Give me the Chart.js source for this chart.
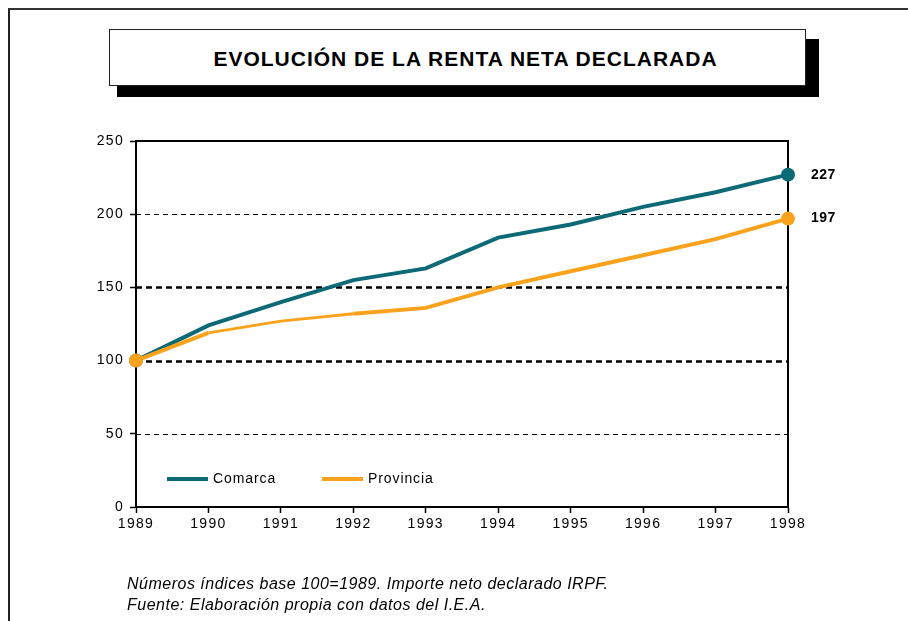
<!DOCTYPE html>
<html>
<head>
<meta charset="utf-8">
<script src="https://cdn.jsdelivr.net/npm/chart.js@4"></script>
<style>
  body { margin: 0; background: #fff; font-family: "Liberation Sans", Arial, sans-serif; }
  #page { position: relative; width: 908px; height: 621px; overflow: hidden; }
  #marco { position: absolute; left: 8px; top: 8px; width: 920px; height: 640px;
           border-left: 2px solid #222; border-top: 2px solid #333; }
  #sombra { position: absolute; left: 117px; top: 39px; width: 702px; height: 58px; background: #000; }
  #titulo { position: absolute; left: 109px; top: 29px; width: 695px; height: 55px;
            background: #fff; border: 1.5px solid #222; text-align: center; text-indent: 16px;
            line-height: 57px; font-weight: bold; font-size: 21px; letter-spacing: 1px; color: #000; }
  #nota { position: absolute; left: 127px; top: 573px; font-style: italic; font-size: 16px;
          line-height: 21px; letter-spacing: 0.5px; color: #000; }
  canvas { position: absolute; left: 0; top: 0; }
</style>
</head>
<body>
<div id="page">
  <div id="marco"></div>
  <div id="sombra"></div>
  <div id="titulo">EVOLUCIÓN DE LA RENTA NETA DECLARADA</div>
  <canvas id="grafica" width="908" height="621"></canvas>
  <div id="nota">Números índices base 100=1989. Importe neto declarado IRPF.<br>Fuente: Elaboración propia con datos del I.E.A.</div>
</div>
<script>
const ANIOS = ['1989', '1990', '1991', '1992', '1993', '1994', '1995', '1996', '1997', '1998'];
const COMARCA = [100, 124, 140, 155, 163, 184, 193, 205, 215, 227];
const PROVINCIA = [100, 119, 127, 132, 136, 150, 161, 172, 183, 197];
const NOMBRES = ['Comarca', 'Provincia'];

const TEAL = '#0c6976';
const NARANJA = '#fba21d';
const FUENTE = '"Liberation Sans", Arial, sans-serif';

// lineas de referencia y marco del area
const lineasPlugin = {
    id: 'lineas',
    beforeDraw(chart) {
        chart.ctx.letterSpacing = '1.3px';
    },
    beforeDatasetsDraw(chart) {
        const ctx = chart.ctx;
        const area = chart.chartArea;
        const y = chart.scales.y;
        ctx.save();
        [50, 100, 150, 200].forEach(v => {
            const gruesa = (v === 100 || v === 150);
            const py = Math.round(y.getPixelForValue(v)) + 0.5;
            ctx.beginPath();
            ctx.setLineDash(gruesa ? [6, 4] : [5, 4]);
            ctx.lineWidth = gruesa ? 2.5 : 1;
            ctx.strokeStyle = '#000';
            ctx.moveTo(area.left, py);
            ctx.lineTo(area.right, py);
            ctx.stroke();
        });
        ctx.setLineDash([]);
        ctx.lineWidth = 2;
        ctx.strokeStyle = '#000';
        ctx.beginPath();
        ctx.moveTo(area.left, area.top);
        ctx.lineTo(area.right, area.top);
        ctx.lineTo(area.right, area.bottom);
        ctx.stroke();
        ctx.restore();
    },
    afterDatasetsDraw(chart) {
        const ctx = chart.ctx;
        const area = chart.chartArea;
        ctx.save();
        // etiquetas finales
        ctx.font = 'bold 14px ' + FUENTE;
        ctx.letterSpacing = '0.5px';
        ctx.fillStyle = '#000';
        ctx.textBaseline = 'middle';
        chart.data.datasets.forEach((ds, i) => {
            const meta = chart.getDatasetMeta(i);
            const p = meta.data[meta.data.length - 1];
            ctx.fillText(String(ds.data[ds.data.length - 1]), p.x + 23, p.y);
        });
        // leyenda
        const ly = area.bottom - 28;
        const items = [[TEAL, NOMBRES[0], area.left + 31], [NARANJA, NOMBRES[1], area.left + 186]];
        ctx.font = '14px ' + FUENTE;
        ctx.letterSpacing = '0.9px';
        items.forEach(it => {
            ctx.strokeStyle = it[0];
            ctx.lineWidth = 4;
            ctx.beginPath();
            ctx.moveTo(it[2], ly);
            ctx.lineTo(it[2] + 41, ly);
            ctx.stroke();
            ctx.fillStyle = '#000';
            ctx.fillText(it[1], it[2] + 46, ly);
        });
        ctx.restore();
    }
};

const puntos = ctx => (ctx.dataIndex === 0 || ctx.dataIndex === ANIOS.length - 1) ? 7 : 0;

new Chart(document.getElementById('grafica'), {
    type: 'line',
    data: {
        labels: ANIOS,
        datasets: [{
            label: NOMBRES[1],
            data: PROVINCIA,
            borderColor: NARANJA,
            backgroundColor: NARANJA,
            borderWidth: 4,
            segment: {
                borderWidth: ctx => (ctx.p0DataIndex >= 1 && ctx.p0DataIndex <= 2) ? 2.8 : 4
            },
            pointRadius: puntos,
            pointBorderWidth: 0,
            tension: 0
        }, {
            label: NOMBRES[0],
            data: COMARCA,
            borderColor: TEAL,
            backgroundColor: TEAL,
            borderWidth: 4,
            pointRadius: puntos,
            pointBorderWidth: 0,
            tension: 0,
            order: 1
        }]
    },
    options: {
        responsive: false,
        animation: false,
        devicePixelRatio: 1,
        layout: { padding: { left: 90, top: 141, right: 120, bottom: 84 } },
        plugins: { legend: { display: false }, tooltip: { enabled: false } },
        scales: {
            x: {
                offset: false,
                afterFit: s => { s.height = 30; },
                grid: { drawOnChartArea: false, drawTicks: true, tickLength: 6, color: '#000', tickWidth: 1.5 },
                border: { display: true, color: '#000', width: 2 },
                ticks: { color: '#000', font: { family: FUENTE, size: 14 }, padding: 3, maxRotation: 0 }
            },
            y: {
                min: 0,
                max: 250,
                afterFit: s => { s.width = 46; },
                grid: { drawOnChartArea: false, drawTicks: true, tickLength: 6, color: '#000', tickWidth: 1.5 },
                border: { display: true, color: '#000', width: 2 },
                ticks: { stepSize: 50, color: '#000', font: { family: FUENTE, size: 14 }, padding: 6 }
            }
        }
    },
    plugins: [lineasPlugin]
});
</script>
</body>
</html>
